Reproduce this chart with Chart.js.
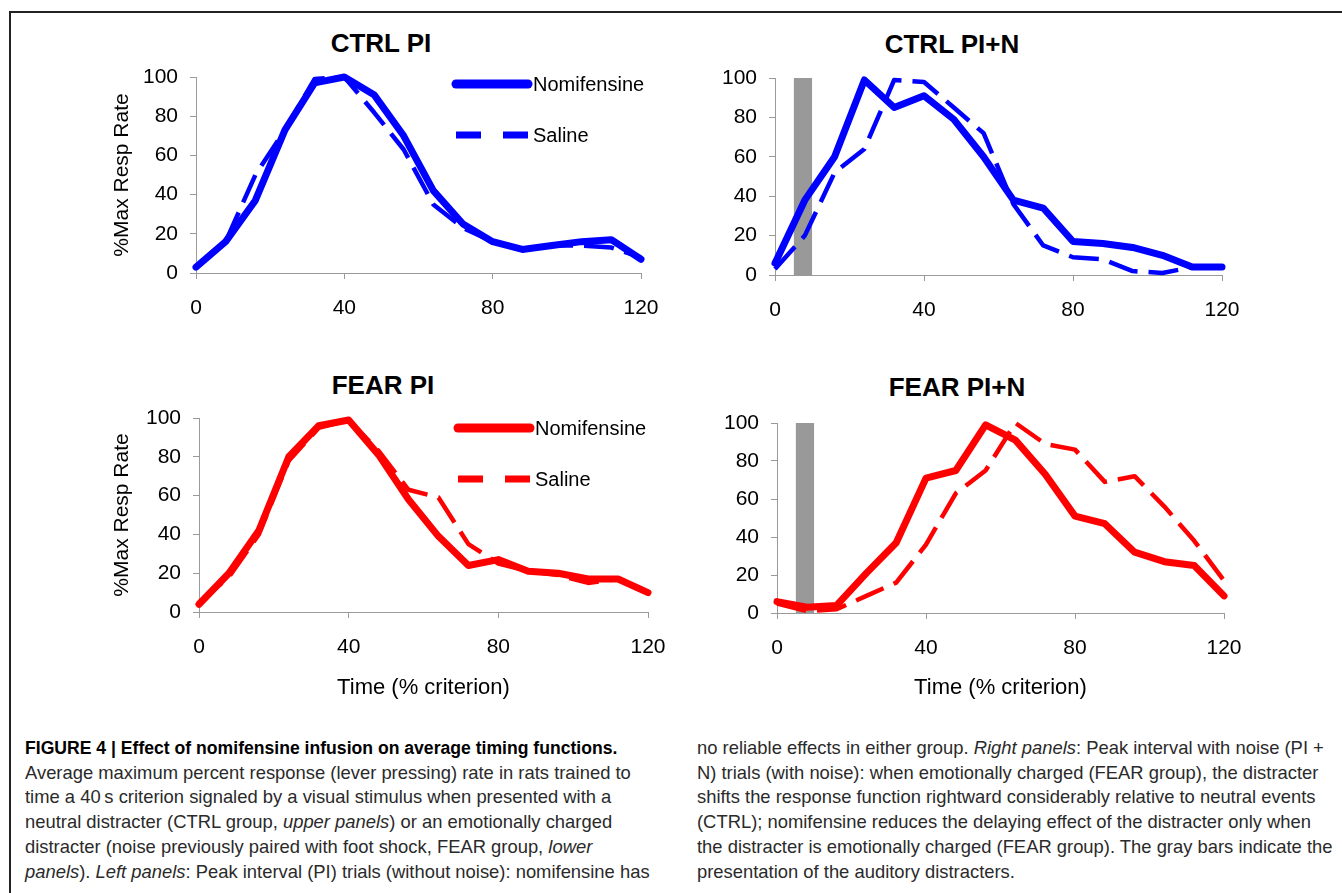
<!DOCTYPE html>
<html>
<head>
<meta charset="utf-8">
<script src="https://cdn.jsdelivr.net/npm/chart.js@4.4.1/dist/chart.umd.min.js"></script>
<style>
  html, body { margin: 0; padding: 0; background: #fff; }
  body { width: 1342px; height: 893px; position: relative; overflow: hidden; font-family: "Liberation Sans", Arial, sans-serif; }
  .frame-top { position: absolute; left: 9px; top: 11px; width: 1333px; height: 0; border-top: 2px solid #222; }
  .frame-left { position: absolute; left: 9px; top: 11px; width: 0; height: 882px; border-left: 2px solid #222; }
  .panel { position: absolute; }
  .ptitle { position: absolute; font-weight: bold; font-size: 26px; line-height: 26px; color: #000; transform: translateX(-50%); white-space: nowrap; }
  .caption { position: absolute; top: 736px; font-size: 18.4px; line-height: 24.7px; color: #2a2a2a; white-space: nowrap; }
  .caption b { color: #000; font-size: 17.6px; }
</style>
</head>
<body>
<div class="frame-top"></div>
<div class="frame-left"></div>

<div class="ptitle" style="left:381px; top:30px;">CTRL PI</div>
<div class="ptitle" style="left:952px; top:31px;">CTRL PI+N</div>
<div class="ptitle" style="left:383px; top:372px;">FEAR PI</div>
<div class="ptitle" style="left:957px; top:374px;">FEAR PI+N</div>

<div class="panel" style="left:100px; top:57px;"><canvas id="ctrlPi" width="581" height="261"></canvas></div>
<div class="panel" style="left:700px; top:58px;"><canvas id="ctrlPin" width="562" height="262"></canvas></div>
<div class="panel" style="left:100px; top:398px;"><canvas id="fearPi" width="588" height="304"></canvas></div>
<div class="panel" style="left:700px; top:403px;"><canvas id="fearPin" width="564" height="300"></canvas></div>

<div class="caption" style="left:25px;">
<b>FIGURE 4 | Effect of nomifensine infusion on average timing functions.</b><br>
Average maximum percent response (lever pressing) rate in rats trained to<br>
time a 40&#8201;s criterion signaled by a visual stimulus when presented with a<br>
neutral distracter (CTRL group, <i>upper panels</i>) or an emotionally charged<br>
distracter (noise previously paired with foot shock, FEAR group, <i>lower</i><br>
<i>panels</i>). <i>Left panels</i>: Peak interval (PI) trials (without noise): nomifensine has
</div>
<div class="caption" style="left:697px;">
no reliable effects in either group. <i>Right panels</i>: Peak interval with noise (PI +<br>
N) trials (with noise): when emotionally charged (FEAR group), the distracter<br>
shifts the response function rightward considerably relative to neutral events<br>
(CTRL); nomifensine reduces the delaying effect of the distracter only when<br>
the distracter is emotionally charged (FEAR group). The gray bars indicate the<br>
presentation of the auditory distracters.
</div>

<script>
// time axis (% criterion), one sample every 8%
const timePoints = [0, 8, 16, 24, 32, 40, 48, 56, 64, 72, 80, 88, 96, 104, 112, 120];

// CTRL group
const ctrlPiNomifensine  = [3, 16, 37, 73, 97, 100, 91, 70, 42, 25, 16, 12, 14, 16, 17, 7];
const ctrlPiSaline       = [3, 16, 50, 73, 99, 100, 82, 63, 35, 23, 16, 12, 14, 14, 13, 8];
const ctrlPinNomifensine = [6, 38, 60, 99, 85, 91, 79, 60, 38, 34, 17, 16, 14, 10, 4, 4];
const ctrlPinSaline      = [3, 20, 52, 64, 99, 98, 85, 72, 36, 15, 9, 8, 2, 1, 4, 4];

// FEAR group
const fearPiNomifensine  = [4, 20, 42, 80, 96, 99, 81, 58, 39, 24, 27, 21, 20, 17, 17, 10];
const fearPiSaline       = [5, 18, 40, 78, 95, 99, 83, 63, 59, 35, 25, 21, 19, 15, 17, 10];
const fearPinNomifensine = [6, 3, 4, 21, 37, 71, 75, 99, 91, 73, 51, 47, 32, 27, 25, 9];
const fearPinSaline      = [5, 1, 2, 9, 16, 36, 63, 75, 100, 89, 86, 69, 72, 56, 38, 17];

// gray distracter bars (noise presentation), outline corners
const ctrlNoiseX = [5, 5, 10, 10];
const ctrlNoiseY = [0, 101, 101, 0];
const fearNoiseX = [5, 5, 10, 10];
const fearNoiseY = [0, 103, 103, 0];

// axis ticks
const xTicks = [0, 40, 80, 120];
const yTicks = [0, 20, 40, 60, 80, 100];

const seriesLabels = ['Nomifensine', 'Saline'];

const FONT = '"Liberation Sans", Arial, sans-serif';
const BLUE = '#0000ff';
const RED = '#ff0000';
const GRAY = '#999999';

function toPoints(xs, ys) {
    return xs.map((x, i) => ({ x: x, y: ys[i] }));
}

// -------------------------------------------------------
// panel list
// -------------------------------------------------------
const panels = [
    { id: 'ctrlPi',  nomi: ctrlPiNomifensine,  sal: ctrlPiSaline,  color: BLUE,
      yW: 96, padTop: 20, padRight: 40, xH: 45, yTitle: true,  xTitle: false,
      legend: { x1: 356, x2: 428, y: [27, 78] } },
    { id: 'ctrlPin', nomi: ctrlPinNomifensine, sal: ctrlPinSaline, color: BLUE,
      yW: 75, padTop: 20, padRight: 40, xH: 45, yTitle: false, xTitle: false,
      bar: [ctrlNoiseX, ctrlNoiseY] },
    { id: 'fearPi',  nomi: fearPiNomifensine,  sal: fearPiSaline,  color: RED,
      yW: 99, padTop: 20, padRight: 40, xH: 90, yTitle: true,  xTitle: true, xTitlePad: 1,
      legend: { x1: 358, x2: 430, y: [30, 81] } },
    { id: 'fearPin', nomi: fearPinNomifensine, sal: fearPinSaline, color: RED,
      yW: 77, padTop: 20, padRight: 40, xH: 90, yTitle: false, xTitle: true, xTitlePad: 2,
      bar: [fearNoiseX, fearNoiseY] }
];

// legend drawn inside the plot, like the original
const lineLegend = {
    id: 'lineLegend',
    afterDraw(chart, args, opts) {
        if (!opts || !opts.items) return;
        const ctx = chart.ctx;
        ctx.save();
        opts.items.forEach(item => {
            ctx.beginPath();
            ctx.strokeStyle = item.color;
            ctx.lineWidth = item.width;
            ctx.lineCap = item.dash.length ? 'butt' : 'round';
            ctx.setLineDash(item.dash);
            ctx.moveTo(opts.x1, item.y);
            ctx.lineTo(opts.x2, item.y);
            ctx.stroke();
            ctx.setLineDash([]);
            ctx.fillStyle = '#000';
            ctx.font = '20px ' + FONT;
            ctx.textBaseline = 'middle';
            ctx.textAlign = 'left';
            ctx.fillText(item.text, opts.x2 + 5, item.y + 1);
        });
        ctx.restore();
    }
};

panels.forEach(p => buildPanel(p));

function buildPanel(p) {
    const datasets = [
        {
            label: seriesLabels[1],
            data: toPoints(timePoints, p.sal),
            borderColor: p.color,
            borderWidth: 4.5,
            borderDash: [30, 11],
            borderJoinStyle: 'round',
            pointRadius: 0,
            fill: false,
            clip: false
        },
        {
            label: seriesLabels[0],
            data: toPoints(timePoints, p.nomi),
            borderColor: p.color,
            borderWidth: 7,
            borderJoinStyle: 'round',
            borderCapStyle: 'round',
            pointRadius: 0,
            fill: false,
            clip: false
        }
    ];
    if (p.bar) {
        datasets.push({
            label: 'noise',
            data: toPoints(p.bar[0], p.bar[1]),
            borderWidth: 0,
            borderColor: GRAY,
            backgroundColor: GRAY,
            pointRadius: 0,
            fill: 'origin',
            clip: false
        });
    }

    const gridOpts = {
        display: true,
        drawOnChartArea: false,
        drawTicks: true,
        tickLength: 6,
        color: '#9a9a9a'
    };

    let legendOpts = null;
    if (p.legend) {
        legendOpts = {
            x1: p.legend.x1, x2: p.legend.x2,
            items: [
                { text: seriesLabels[0], color: p.color, width: 9, dash: [], y: p.legend.y[0] },
                { text: seriesLabels[1], color: p.color, width: 7, dash: [25, 22], y: p.legend.y[1] }
            ]
        };
    }

    new Chart(document.getElementById(p.id), {
        type: 'line',
        data: { datasets: datasets },
        plugins: [lineLegend],
        options: {
            responsive: false,
            animation: false,
            events: [],
            layout: { padding: { left: 0, top: p.padTop, right: p.padRight, bottom: 0 } },
            plugins: {
                legend: { display: false },
                title: { display: false },
                tooltip: { enabled: false },
                lineLegend: legendOpts
            },
            scales: {
                x: {
                    type: 'linear',
                    min: xTicks[0],
                    max: xTicks[xTicks.length - 1],
                    afterBuildTicks: s => { s.ticks = xTicks.map(v => ({ value: v })); },
                    ticks: { color: '#000', font: { family: FONT, size: 21 }, padding: 17, maxRotation: 0 },
                    grid: gridOpts,
                    border: { display: true, color: '#9a9a9a', width: 1 },
                    title: {
                        display: p.xTitle,
                        text: 'Time (% criterion)',
                        color: '#000',
                        font: { family: FONT, size: 22 },
                        padding: { top: 0, bottom: p.xTitlePad || 0 }
                    },
                    afterFit: s => { s.height = p.xH; s.paddingLeft = 0; s.paddingRight = 0; }
                },
                y: {
                    min: yTicks[0],
                    max: yTicks[yTicks.length - 1],
                    afterBuildTicks: s => { s.ticks = yTicks.map(v => ({ value: v })); },
                    ticks: { color: '#000', font: { family: FONT, size: 21 }, padding: 12 },
                    grid: gridOpts,
                    border: { display: true, color: '#9a9a9a', width: 1 },
                    title: {
                        display: p.yTitle,
                        text: '%Max Resp Rate',
                        color: '#000',
                        font: { family: FONT, size: 21 },
                        padding: { top: 10, bottom: 0 }
                    },
                    afterFit: s => { s.width = p.yW; s.paddingTop = 0; s.paddingBottom = 0; }
                }
            }
        }
    });
}
</script>
</body>
</html>
